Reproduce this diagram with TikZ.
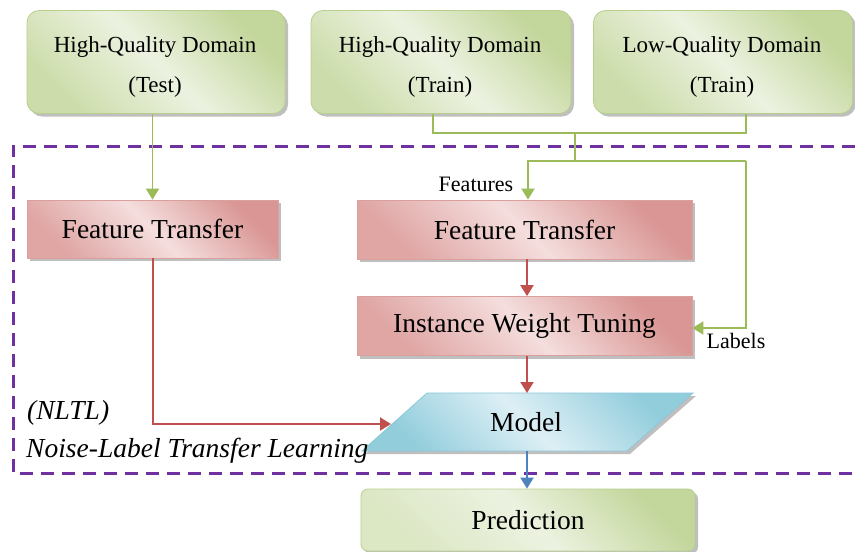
\documentclass[tikz,border=0pt]{standalone}
\usepackage{fontspec}
\setmainfont{Liberation Serif}
\usetikzlibrary{arrows.meta,shadows,calc}

\definecolor{gDark}{HTML}{C3D69B}
\definecolor{gLight}{HTML}{ECF2E0}
\definecolor{gEdge}{HTML}{B9CF8E}
\definecolor{rDark}{HTML}{D99694}
\definecolor{rLight}{HTML}{F4DEDD}
\definecolor{rEdge}{HTML}{D9A09E}
\definecolor{bDark}{HTML}{92CDDC}
\definecolor{bLight}{HTML}{DDEFF5}
\definecolor{bEdge}{HTML}{8CC8D8}
\definecolor{gLine}{HTML}{9BBB59}
\definecolor{rLine}{HTML}{C0504D}
\definecolor{bLine}{HTML}{4F81BD}
\definecolor{frame}{HTML}{7030A0}

\tikzset{
  softshadow/.style={drop shadow={shadow xshift=3pt,shadow yshift=-3pt,fill=black,opacity=0.25}},
  domainbox/.style={draw=gEdge,line width=0.8pt,rounded corners=12pt,softshadow,
    top color=gDark,bottom color=gDark!85,middle color=gLight,shading angle=-45,inner sep=0pt},
  domaintext/.style={align=center,font=\fontsize{23}{40}\selectfont,inner sep=0pt},
  procbox/.style={draw=rEdge,line width=0.8pt,softshadow,
    top color=rDark,bottom color=rDark!85,middle color=rLight,shading angle=-45,
    font=\fontsize{27.5}{30}\selectfont,inner sep=0pt},
  predbox/.style={draw=gEdge,line width=0.8pt,rounded corners=7pt,softshadow,
    top color=gDark,bottom color=gLight!60!gDark,middle color=gLight,shading angle=-45,
    font=\fontsize{27.5}{30}\selectfont,inner sep=0pt},
  modelshape/.style={draw=bEdge,line width=0.8pt,softshadow,
    top color=bDark,bottom color=bDark,middle color=bLight,shading angle=-45},
  tip/.style={-{Triangle[length=11pt,width=13pt]}},
  gwire/.style={draw=gLine,line width=1.9pt},
  rwire/.style={draw=rLine,line width=1.9pt},
  bwire/.style={draw=bLine,line width=1.9pt},
  tag/.style={font=\fontsize{22}{24}\selectfont,inner sep=0pt},
  caption/.style={font=\fontsize{27.5}{29}\selectfont\itshape,inner sep=0pt,anchor=west},
}

\begin{document}
\begin{tikzpicture}[x=1pt,y=-1pt]
\useasboundingbox (0,0) rectangle (855,552);
\fill[white] (0,0) rectangle (855,552);

% dashed frame of the NLTL block
\draw[frame,line width=3pt,dash pattern=on 13pt off 8pt]
  (855,146) -- (13,146) -- (13,473) -- (855,473);

% source domains
\node[domainbox,minimum width=258pt,minimum height=103pt] (hqtest) at (156,62) {};
\node[domainbox,minimum width=260pt,minimum height=103pt] (hqtrain) at (441,62) {};
\node[domainbox,minimum width=259pt,minimum height=103pt] (lqtrain) at (723,62) {};
\node[domaintext] (hqtestTxt) at (155,67) {High-Quality Domain\\(Test)};
\node[domaintext] (hqtrainTxt) at (440,67) {High-Quality Domain\\(Train)};
\node[domaintext] (lqtrainTxt) at (722,67) {Low-Quality Domain\\(Train)};

% processing steps
\node[procbox,minimum width=251pt,minimum height=58pt] (ft1) at (152.5,229) {Feature Transfer};
\node[procbox,minimum width=335pt,minimum height=59pt] (ft2) at (524.5,229.5) {Feature Transfer};
\node[procbox,minimum width=335pt,minimum height=59pt] (iwt) at (524.5,326) {Instance Weight Tuning};

% model parallelogram
\coordinate (mBL) at (362,451);
\coordinate (mBR) at (627,451);
\coordinate (mTR) at (693,393);
\coordinate (mTL) at (427,393);
\path[modelshape] (mBL) -- (mBR) -- (mTR) -- (mTL) -- cycle;
\node[font=\fontsize{27.5}{30}\selectfont,inner sep=0pt] (model) at (526,422) {Model};
\coordinate (mTop) at (527,393);
\coordinate (mBot) at (527,451);
\coordinate (mIn) at (391,424);

% prediction
\node[predbox,minimum width=334pt,minimum height=62pt] (pred) at (528,520) {Prediction};

% green feature / label routing
\coordinate (jA) at (433,133);
\coordinate (jB) at (746,133);
\coordinate (jC) at (575,133);
\coordinate (jD) at (575,161);
\coordinate (jE) at (528,161);
\coordinate (jF) at (746,161);
\coordinate (jG) at (746,328);

\draw[gwire,tip] (ft1.north |- hqtest.south) -- (ft1.north);
\draw[gwire] (hqtrain.south -| jA) -- (jA) -- (jB) -- (lqtrain.south -| jB);
\draw[gwire] (jC) -- (jD);
\draw[gwire,tip] (jF) -- (jE) -- (jE |- ft2.north);
\draw[gwire,tip] (jF) -- (jG) -- (iwt.east |- jG);

\node[tag] (feat) at (476,184) {Features};
\node[tag] (lab) at (736,341) {Labels};

% red flow
\draw[rwire,tip] (ft2.south -| mTop) -- (iwt.north -| mTop);
\draw[rwire,tip] (iwt.south -| mTop) -- (mTop);
\draw[rwire,tip] (ft1.south -| 153,0) -- (153,424) -- (mIn);

% blue output
\draw[bwire,tip] (mBot) -- (pred.north -| mBot);

% block caption
\node[caption] (abbr) at (27,413) {(NLTL)};
\node[caption] (full) at (26,451) {Noise-Label Transfer Learning};
\end{tikzpicture}
\end{document}
